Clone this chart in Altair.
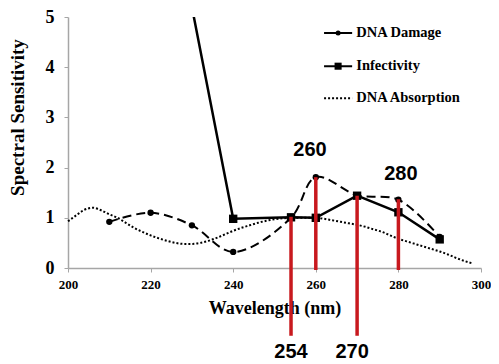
import altair as alt
import pandas as pd

# ---- data ----
damage_wl = [210, 220, 230, 240, 254, 260, 270, 280, 290]
damage_val = [0.92, 1.10, 0.85, 0.32, 1.00, 1.81, 1.45, 1.36, 0.62]

infect_wl = [230, 240, 254, 260, 270, 280, 290]
infect_val = [5.2, 0.98, 1.01, 1.00, 1.44, 1.11, 0.57]

absorb_wl = [200, 202, 204, 206, 208, 210, 212, 214, 216, 218, 220, 222, 224, 226, 228,
             230, 232, 234, 236, 238, 240, 242, 244, 246, 248, 250, 252, 254, 256, 258,
             260, 262, 264, 266, 268, 270, 272, 274, 276, 278, 280, 282, 284, 286, 288,
             290, 292, 294, 296, 298]
absorb_val = [0.93, 1.05, 1.16, 1.20, 1.15, 1.07, 1.00, 0.90, 0.80, 0.72, 0.65, 0.59, 0.54, 0.50, 0.48,
              0.48, 0.50, 0.54, 0.60, 0.67, 0.74, 0.80, 0.85, 0.90, 0.94, 0.97, 0.99, 1.00, 1.00, 1.00,
              1.00, 0.98, 0.95, 0.92, 0.89, 0.86, 0.82, 0.77, 0.72, 0.65, 0.58, 0.53, 0.48, 0.43, 0.38,
              0.33, 0.27, 0.20, 0.14, 0.09]

mark_wl = [254, 260, 270, 280]
mark_top = [1.02, 1.81, 1.44, 1.37]
mark_bottom = [-1.35, -0.04, -1.35, -0.04]

label_text = ["254", "260", "270", "280"]
label_wl = [254, 258.6, 268.8, 280.6]
label_val = [-1.68, 2.36, -1.68, 1.88]

legend_names = ["DNA Damage", "Infectivity", "DNA Absorption"]
legend_val = [4.68, 4.02, 3.38]
legend_x1 = 262.0
legend_x2 = 268.8
legend_xt = 269.8

x_ticks = [200, 220, 240, 260, 280, 300]
y_ticks = [0, 1, 2, 3, 4, 5]

# ---- tables ----
df_damage = pd.DataFrame({"wl": damage_wl, "val": damage_val})
df_infect = pd.DataFrame({"wl": infect_wl, "val": infect_val})
df_absorb = pd.DataFrame({"wl": absorb_wl, "val": absorb_val})
df_marks = pd.DataFrame({"wl": mark_wl, "val": mark_top, "val2": mark_bottom})
df_labels = pd.DataFrame({"wl": label_wl, "val": label_val, "txt": label_text})
df_legend = pd.DataFrame({
    "name": legend_names,
    "val": legend_val,
    "wl": [legend_x1] * 3,
    "wl2": [legend_x2] * 3,
    "wlm": [(legend_x1 + legend_x2) / 2] * 3,
    "wlt": [legend_xt] * 3,
})

x_scale = alt.Scale(domain=[200, 300], nice=False, zero=False)
y_scale = alt.Scale(domain=[0, 5], nice=False)

x_axis = alt.Axis(values=x_ticks, labelFontSize=13, tickSize=4, labelPadding=6,
                  titleFontSize=18, titlePadding=8, labelFlush=False)
y_axis = alt.Axis(values=y_ticks, labelFontSize=18, tickSize=4, labelPadding=10,
                  titleFontSize=19, titlePadding=18, titleY=100)


def X(field="wl"):
    return alt.X(f"{field}:Q", scale=x_scale, axis=x_axis, title="Wavelength (nm)")


def Y(field="val"):
    return alt.Y(f"{field}:Q", scale=y_scale, axis=y_axis, title="Spectral Sensitivity")


absorb = alt.Chart(df_absorb).mark_line(
    color="black", strokeWidth=2, strokeDash=[2, 2], interpolate="monotone"
).encode(x=X(), y=Y())

damage_line = alt.Chart(df_damage).mark_line(
    color="black", strokeWidth=2, strokeDash=[9, 5], interpolate="catmull-rom"
).encode(x=X(), y=Y())
damage_pts = alt.Chart(df_damage).mark_point(
    shape="circle", filled=True, color="black", size=40, opacity=1
).encode(x=X(), y=Y())

infect_line = alt.Chart(df_infect).mark_line(
    color="black", strokeWidth=2.5, clip=True
).encode(x=X(), y=Y())
infect_pts = alt.Chart(df_infect).mark_point(
    shape="square", filled=True, color="black", size=70, opacity=1, clip=True
).encode(x=X(), y=Y())

red = alt.Chart(df_marks).mark_rule(
    color="#c8191e", strokeWidth=3.5, clip=False
).encode(x=X(), y=Y(), y2="val2:Q")

labels = alt.Chart(df_labels).mark_text(
    font="Liberation Sans", fontWeight="bold", fontSize=20, color="black", clip=False
).encode(x=X(), y=Y(), text="txt:N")

legend_lines = alt.Chart(df_legend).mark_rule(color="black", strokeWidth=2).encode(
    x=X(), x2="wl2:Q", y=Y(),
    strokeDash=alt.StrokeDash("name:N", scale=alt.Scale(domain=legend_names,
                              range=[[1, 0], [1, 0], [2, 2]]), legend=None),
)
legend_pts = alt.Chart(df_legend).transform_filter(
    alt.datum.name != "DNA Absorption"
).mark_point(filled=True, color="black", opacity=1).encode(
    x=X("wlm"), y=Y(),
    shape=alt.Shape("name:N", scale=alt.Scale(domain=legend_names[:2],
                    range=["circle", "square"]), legend=None),
    size=alt.Size("name:N", scale=alt.Scale(domain=legend_names[:2], range=[25, 50]),
                  legend=None),
)
legend_text = alt.Chart(df_legend).mark_text(
    align="left", baseline="middle", font="Liberation Serif", fontWeight="bold",
    fontSize=14.5, color="black"
).encode(x=X("wlt"), y=Y(), text="name:N")

chart = alt.layer(
    absorb, damage_line, damage_pts, infect_line, infect_pts, red, labels,
    legend_lines, legend_pts, legend_text
).properties(
    width=413, height=251,
    padding={"left": 0, "top": 0, "right": 0, "bottom": 0},
).configure_view(stroke=None).configure_axis(
    grid=False, domainColor="#a6a6a6", tickColor="#a6a6a6", domainWidth=1.5,
    labelFont="Liberation Serif", labelFontWeight="bold", labelColor="black",
    titleFont="Liberation Serif", titleFontWeight="bold", titleColor="black",
)

chart.save("out.html", embed_options={"renderer": "svg", "actions": False})
